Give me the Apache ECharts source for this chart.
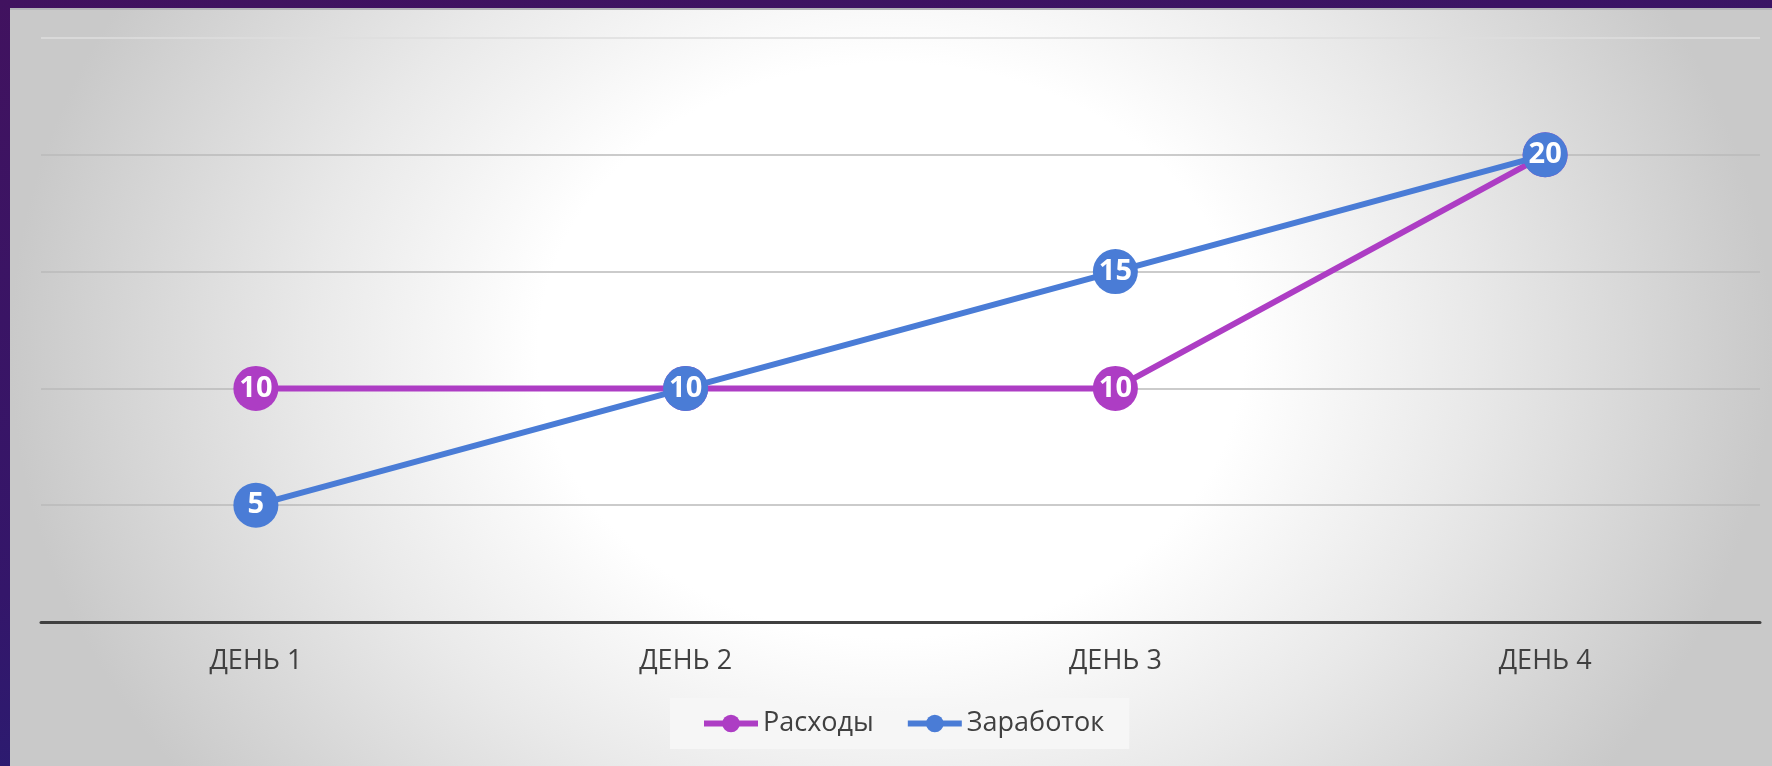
<!DOCTYPE html>
<html><head><meta charset="utf-8">
<script src="https://cdn.jsdelivr.net/npm/echarts@6/dist/echarts.min.js"></script>
<style>
html,body{margin:0;padding:0;width:1772px;height:766px;overflow:hidden;}
body{background:linear-gradient(170deg,#41125f 0%,#34166a 55%,#1f237a 100%);position:relative;}
#panel{position:absolute;left:10px;top:8px;width:1762px;height:758px;
background:radial-gradient(ellipse 50% 95% at 50% 45%,#ffffff 0%,#ffffff 40%,#e9e9e9 66%,#c9c9c9 100%);
border-top:2px solid #b4b4b8;box-sizing:border-box;}
#chart{position:absolute;left:0;top:0;width:1772px;height:766px;}
</style></head>
<body><div id="panel"></div><div id="chart"></div>
<script>
const categories = ['ДЕНЬ 1','ДЕНЬ 2','ДЕНЬ 3','ДЕНЬ 4'];
const seriesNames = ['Расходы','Заработок'];
const expenses = [10, 10, 10, 20];
const earnings = [5, 10, 15, 20];
const colors = ['#ad3dc4','#4a7cd6'];

const chart = echarts.init(document.getElementById('chart'));
function mkSeries(name, data, color, z){
  return {
    name, type:'line', data, z,
    symbol:'circle', symbolSize:45,
    itemStyle:{color},
    lineStyle:{color, width:6},
    label:{show:true, position:'inside', color:'#fff', fontWeight:'bold', fontSize:29, fontFamily:'Open Sans'},
    emphasis:{disabled:true}
  };
}
chart.setOption({
  animation:false,
  textStyle:{fontFamily:'Open Sans'},
  grid:{left:41, right:12, top:38, bottom:144},
  xAxis:{type:'category', data:categories, boundaryGap:true,
    axisLine:{lineStyle:{color:'#404040', width:3}},
    axisTick:{show:false},
    axisLabel:{color:'#404040', fontSize:27, margin:26}},
  yAxis:{type:'value', min:0, max:25, interval:5,
    axisLabel:{show:false}, axisLine:{show:false}, axisTick:{show:false},
    splitLine:{lineStyle:{color:['#bababa','#bababa','#bababa','#bababa','#bababa','#dedede'], width:1.5}}},
  legend:{data:seriesNames, left:670, top:698, backgroundColor:'rgba(246,246,246,0.9)',
    padding:[12,25,12,31], itemWidth:54, itemHeight:22, itemGap:31,
    lineStyle:{width:6},
    textStyle:{color:'#404040', fontSize:27}},
  series:[mkSeries(seriesNames[0], expenses, colors[0], 2), mkSeries(seriesNames[1], earnings, colors[1], 3)]
});
</script></body></html>
